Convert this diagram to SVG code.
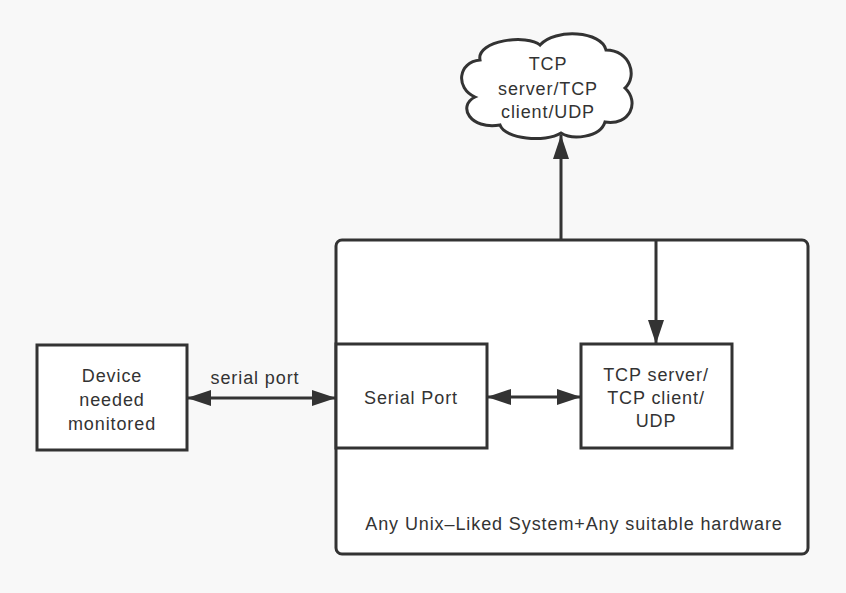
<svg xmlns="http://www.w3.org/2000/svg" width="846" height="593" viewBox="0 0 846 593">
<style>
.box{fill:#ffffff;stroke:#333333;stroke-width:3}
.ln{fill:none;stroke:#333333;stroke-width:3}
text{font-family:"Liberation Sans",Arial,sans-serif;font-size:18px;letter-spacing:0.9px;fill:#333333;text-anchor:middle;dominant-baseline:middle}
</style>
<defs>
<marker id="ah" viewBox="0 0 24 16" refX="24" refY="8" markerWidth="24" markerHeight="16" markerUnits="userSpaceOnUse" orient="auto-start-reverse">
<path d="M0,0 L24,8 L0,16 Z" fill="#333333"/>
</marker>
</defs>
<rect x="0" y="0" width="846" height="593" fill="#f8f8f8"/>
<g id="system">
<rect class="box" x="336" y="240" width="472" height="314" rx="6"/>
<text x="574" y="525">Any Unix–Liked System+Any suitable hardware</text>
</g>
<g id="device">
<rect class="box" x="37" y="345" width="150" height="105"/>
<text x="112" y="377">Device</text>
<text x="112" y="401">needed</text>
<text x="112" y="425">monitored</text>
</g>
<g id="serial">
<rect class="box" x="336" y="344" width="151" height="104"/>
<text x="411" y="399">Serial Port</text>
</g>
<g id="tcpbox">
<rect class="box" x="581" y="344" width="151" height="104"/>
<text x="656" y="376">TCP server/</text>
<text x="656" y="399">TCP client/</text>
<text x="656" y="422">UDP</text>
</g>
<g id="cloud">
<path class="box" d="M480,60 C476,40 528,34 540,45 C555,28 602,31 606,50 C630,50 638,76 625,88 C640,102 630,126 605,122 C600,138 572,140 561,133 C545,143 505,139 500,125 C470,130 457,106 475,97 C455,88 458,62 480,60 Z"/>
<text x="548" y="65">TCP</text>
<text x="548" y="90">server/TCP</text>
<text x="548" y="113">client/UDP</text>
</g>
<g id="connectors">
<path class="ln" d="M187,398 L336,398" marker-start="url(#ah)" marker-end="url(#ah)"/>
<text x="255" y="379">serial port</text>
<path class="ln" d="M487,397 L581,397" marker-start="url(#ah)" marker-end="url(#ah)"/>
<path class="ln" d="M561,240 L561,135" marker-end="url(#ah)"/>
<path class="ln" d="M656,240 L656,344" marker-end="url(#ah)"/>
</g>
</svg>
